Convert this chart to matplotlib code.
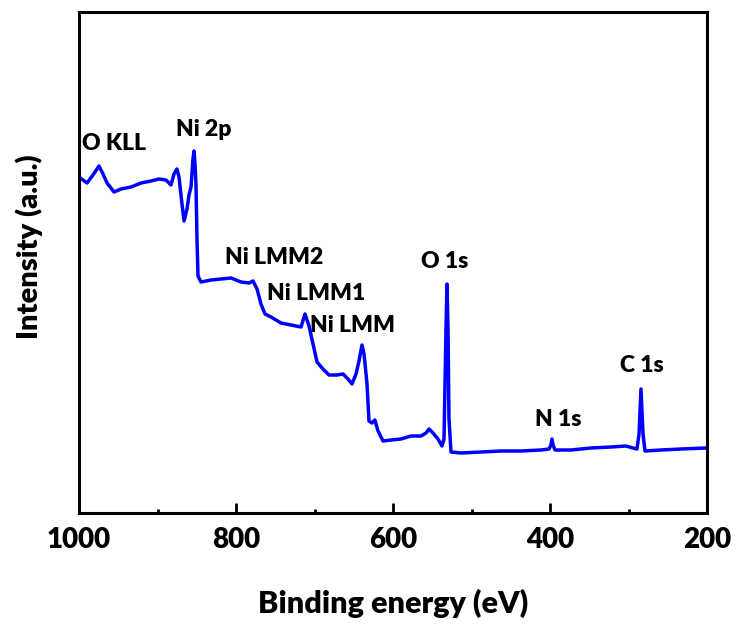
import numpy as np
import matplotlib.pyplot as plt
from matplotlib.ticker import MultipleLocator

# Survey spectrum (binding energy in eV, intensity in a.u.)
energy = np.array([
    1000.0, 989.8, 982.2, 974.5, 969.4, 964.3, 955.4, 946.5, 933.8, 921.0,
    908.3, 898.1, 889.2, 882.8, 879.0, 875.2, 872.6, 868.8, 866.2, 862.4,
    859.9, 857.3, 854.8, 853.5, 852.2, 851.0, 849.7, 848.4, 844.6, 831.8,
    819.1, 806.4, 793.6, 783.4, 778.3, 773.2, 768.2, 763.1, 755.4, 742.7,
    729.9, 717.2, 712.1, 707.0, 701.9, 696.8, 689.2, 681.5, 671.3, 663.7,
    657.3, 652.2, 647.1, 643.3, 639.5, 636.9, 633.1, 630.6, 626.8, 623.1,
    619.1, 612.7, 602.5, 589.8, 577.1, 564.3, 557.9, 554.1, 549.0, 542.7,
    537.6, 535.0, 532.5, 531.2, 529.9, 528.7, 526.1, 513.4, 487.9, 462.4,
    436.9, 411.5, 401.3, 398.7, 397.5, 396.2, 393.6, 373.2, 347.8, 322.3,
    303.2, 294.3, 289.2, 286.6, 284.1, 281.5, 279.0, 258.6, 233.1, 201.3,
])
intensity = np.array([
    336, 330, 338, 347, 339, 330, 321, 324, 326, 330,
    332, 334, 333, 328, 339, 344, 336, 309, 292, 304,
    318, 326, 354, 362, 349, 329, 274, 237, 231, 233,
    234, 235, 231, 230, 232, 224, 209, 199, 196, 190,
    188, 186, 199, 187, 169, 151, 144, 138, 138, 139,
    134, 129, 139, 152, 168, 159, 129, 92, 90, 93,
    82, 72, 73, 74, 77, 77, 80, 84, 80, 74,
    67, 74, 184, 229, 184, 94, 61, 60, 61, 62,
    62, 63, 64, 68, 74, 68, 63, 63, 65, 66,
    67, 65, 64, 79, 124, 79, 62, 63, 64, 65,
])

# peak labels: text, x (eV), y (a.u.)
peak_names = ['O KLL', 'Ni 2p', 'Ni LMM2', 'Ni LMM1', 'Ni LMM', 'O 1s', 'N 1s', 'C 1s']
peak_x = [956, 841, 751, 698, 652, 534, 390, 283]
peak_y = [370, 383, 255, 220, 188, 251, 94, 148]

plt.rcParams['font.family'] = ['Lato', 'DejaVu Sans']
plt.rcParams['font.weight'] = 'bold'

fig = plt.figure(figsize=(7.37, 6.24), dpi=100)
ax = fig.add_axes([79 / 737, 1 - 513 / 624, 628 / 737, 501 / 624])

ax.plot(energy, intensity, color='#0000ff', lw=2.5)

for name, x, y in zip(peak_names, peak_x, peak_y):
    ax.text(x, y, name, fontsize=16.5, fontweight='heavy', ha='center', va='center')

ax.set_xlim(1000, 200)
ax.set_ylim(0, 501)
ax.xaxis.set_major_locator(MultipleLocator(200))
ax.xaxis.set_minor_locator(MultipleLocator(100))
ax.set_yticks([])
ax.tick_params(axis='x', which='major', direction='in', length=7, width=2,
               labelsize=20, pad=10)
ax.tick_params(axis='x', which='minor', direction='in', length=3, width=2)
for lbl in ax.get_xticklabels():
    lbl.set_fontweight('heavy')
for s in ax.spines.values():
    s.set_linewidth(2.2)

ax.set_xlabel('Binding energy (eV)', fontsize=22, fontweight='heavy', labelpad=26)
ax.set_ylabel('Intensity (a.u.)', fontsize=21, fontweight='heavy')
ax.yaxis.set_label_coords(-0.058, 0.531)

fig.savefig('out.png', dpi=100)
